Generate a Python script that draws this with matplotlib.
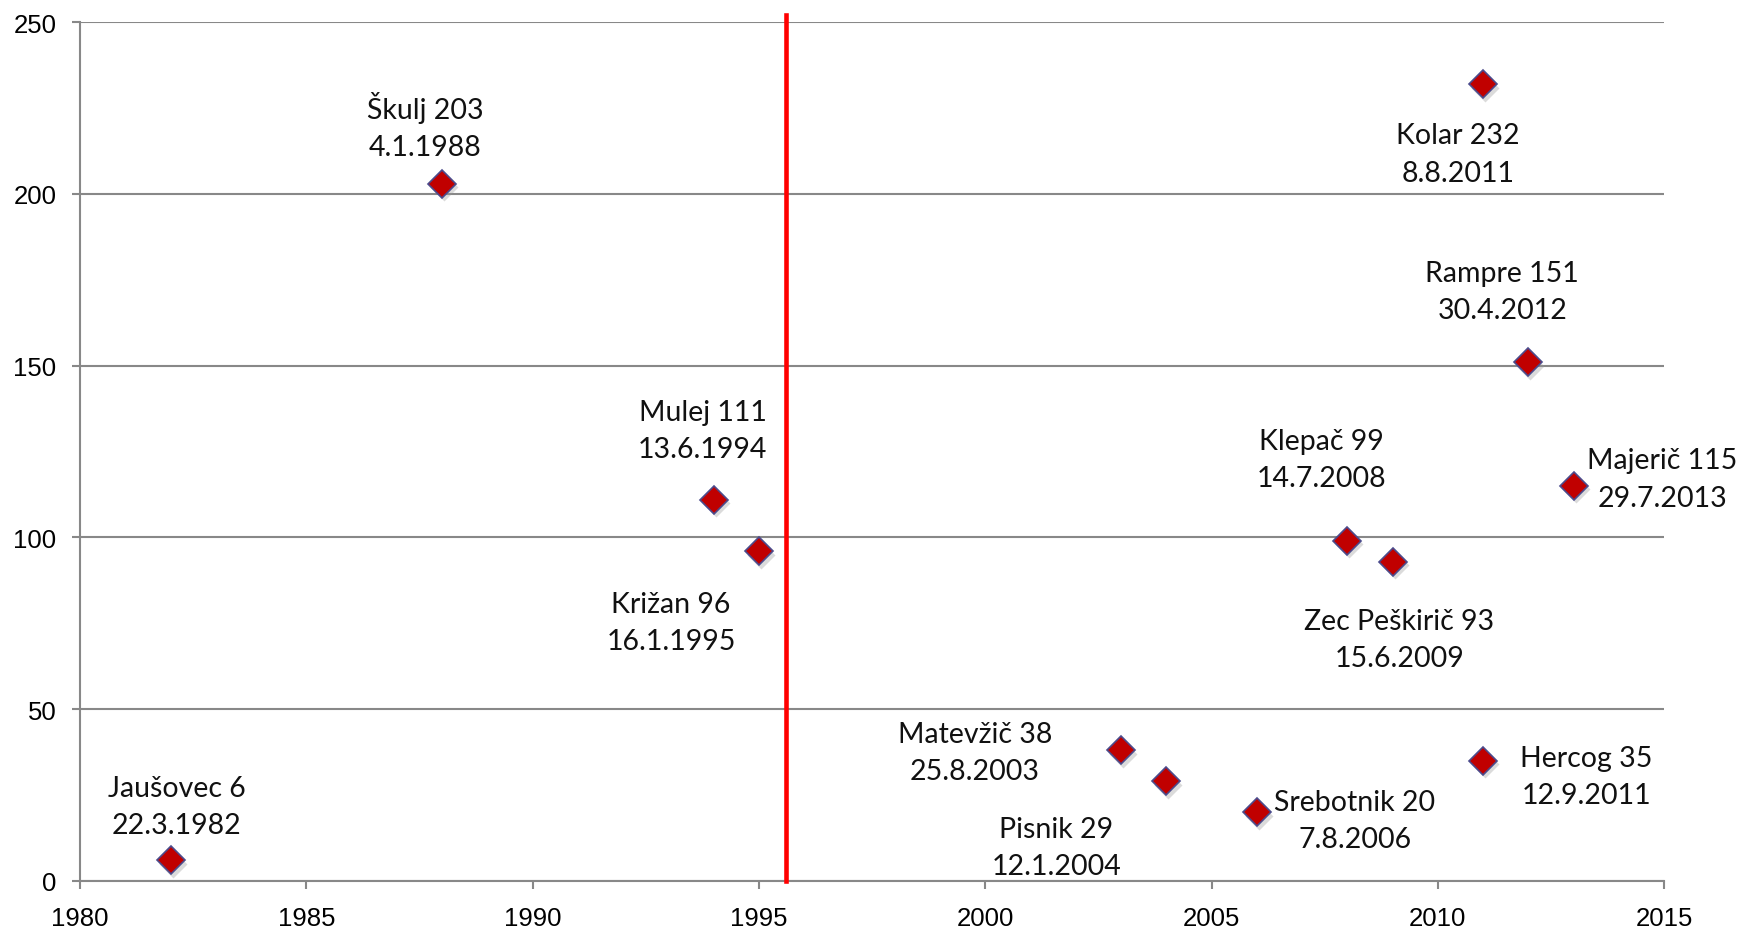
import matplotlib.pyplot as plt
from matplotlib import transforms

# --- data ---
names = ['Jaušovec', 'Škulj', 'Mulej', 'Križan', 'Matevžič', 'Pisnik', 'Srebotnik',
         'Klepač', 'Zec Peškirič', 'Kolar', 'Hercog', 'Rampre', 'Majerič']
ranks = [6, 203, 111, 96, 38, 29, 20, 99, 93, 232, 35, 151, 115]
dates = ['22.3.1982', '4.1.1988', '13.6.1994', '16.1.1995', '25.8.2003', '12.1.2004',
         '7.8.2006', '14.7.2008', '15.6.2009', '8.8.2011', '12.9.2011', '30.4.2012',
         '29.7.2013']
years = [1982, 1988, 1994, 1995, 2003, 2004, 2006, 2008, 2009, 2011, 2011, 2012, 2013]
split_year = 1995.6

# label offsets (pixels) from each point to the centre of its label
offsets = [(6, 54), (-17, 58), (-11, 69), (-88, -71), (-146, -2), (-110, -66), (98, -8),
           (-26, 81), (7, -78), (-25, -70), (103, -16), (-26, 71), (89, 7)]

grid_col = '#888888'

fig = plt.figure(figsize=(17.48, 9.28), dpi=100)
ax = fig.add_axes([0.0458, 0.0496, 0.952 - 0.0458, 0.975 - 0.0496])

ax.set_xlim(1980, 2015)
ax.set_ylim(0, 250)
ax.set_xticks(range(1980, 2016, 5))
ax.set_yticks(range(0, 251, 50))
ax.grid(axis='y', color=grid_col, lw=1.5)
ax.set_axisbelow(True)
for s in ['top', 'right']:
    ax.spines[s].set_visible(False)
for s in ['left', 'bottom']:
    ax.spines[s].set_color(grid_col)
    ax.spines[s].set_linewidth(1.5)
ax.tick_params(axis='both', color=grid_col, width=1.5, length=6, labelsize=18.5)
ax.tick_params(axis='x', pad=12)
ax.tick_params(axis='y', pad=11)
for lab in ax.get_xticklabels() + ax.get_yticklabels():
    lab.set_family('Liberation Sans')

# red separator line
ax.plot([split_year, split_year], [0, 252], color='#FF0000', lw=3.3, clip_on=False, zorder=3)

# shadow + markers
shadow = transforms.offset_copy(ax.transData, fig=fig, x=1.5, y=-2.5, units='points')
ax.plot(years, ranks, 'D', ms=14, color='#999999', alpha=0.35, mec='none',
        transform=shadow, zorder=4)
ax.plot(years, ranks, 'D', ms=14, mfc='#C00000', mec='#4B4B8C', mew=1.2, zorder=5)

for x, y, n, d, off in zip(years, ranks, names, dates, offsets):
    ax.annotate(f'{n} {y}\n{d}', (x, y), xytext=off, textcoords='offset pixels',
                ha='center', va='center', multialignment='center',
                fontsize=20.5, family='Lato', linespacing=1.53, color='#111111')

fig.savefig('out.png', dpi=100)
